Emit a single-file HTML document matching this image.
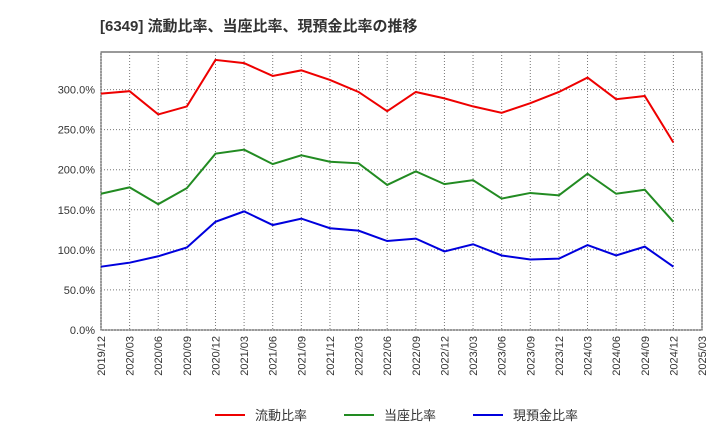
<!DOCTYPE html>
<html><head><meta charset="utf-8"><style>
body{margin:0;background:#fff;font-family:"Liberation Sans","Noto Sans CJK JP",sans-serif;}
</style></head><body>
<svg id="c" width="720" height="440" xmlns="http://www.w3.org/2000/svg">
<text x="100" y="31" font-size="15" font-weight="bold" fill="#333">[6349]  流動比率、当座比率、現預金比率の推移</text>
</svg>
<script>
const categories=["2019/12","2020/03","2020/06","2020/09","2020/12","2021/03","2021/06","2021/09","2021/12","2022/03","2022/06","2022/09","2022/12","2023/03","2023/06","2023/09","2023/12","2024/03","2024/06","2024/09","2024/12","2025/03"];
const currentRatio=[295,298,269,279,337,333,317,324,312,297,273,297,289,279,271,283,297,315,288,292,234];
const quickRatio=[170,178,157,177,220,225,207,218,210,208,181,198,182,187,164,171,168,195,170,175,135];
const cashRatio=[79,84,92,103,135,148,131,139,127,124,111,114,98,107,93,88,89,106,93,104,79];
const yTicks=[0,50,100,150,200,250,300];
const NS="http://www.w3.org/2000/svg";
const svg=document.getElementById('c');
const L=101,R=702,T=52,B=330;
const x=i=>L+(R-L)*i/(categories.length-1);
const y=v=>B-(v/350)*(B-49.5);
function mk(t,a){const e=document.createElementNS(NS,t);for(const k in a)e.setAttribute(k,a[k]);svg.appendChild(e);return e;}
const frame=mk('rect',{x:L,y:T,width:R-L,height:B-T,fill:'none',stroke:'#333','stroke-width':1});


yTicks.forEach(v=>{
 const g=mk('line',{x1:L,x2:R,y1:y(v),y2:y(v),stroke:'#777','stroke-dasharray':'1,2'});
 
 
 const t=mk('text',{x:L-6,y:y(v)+4,'text-anchor':'end','font-size':11,fill:'#333'});
 t.textContent=v.toFixed(1)+'%';
 
 
});
categories.forEach((c,i)=>{
 const g=mk('line',{x1:x(i),x2:x(i),y1:T,y2:B,stroke:'#777','stroke-dasharray':'1,2'});
 
 
 const t=mk('text',{x:0,y:0,'font-size':11,fill:'#333','text-anchor':'end',transform:`translate(${x(i)+4},${B+6}) rotate(-90)`});
 t.textContent=c;
 
 
});
const series=[[currentRatio,'#e00','current-ratio-line','流動比率'],[quickRatio,'#228b22','quick-ratio-line','当座比率'],[cashRatio,'#00d','cash-ratio-line','現預金比率']];
series.forEach(([d,col,name,label],k)=>{
 const p=mk('polyline',{points:d.map((v,i)=>x(i)+','+y(v)).join(' '),fill:'none',stroke:col,'stroke-width':2});
 
 
 const lx=215+k*129;
 const ll=mk('line',{x1:lx,x2:lx+30,y1:415,y2:415,stroke:col,'stroke-width':2});
 
 
 const lt=mk('text',{x:lx+40,y:420,'font-size':13,fill:'#333'});
 lt.textContent=label;
 
 
});
</script>
</body></html>
